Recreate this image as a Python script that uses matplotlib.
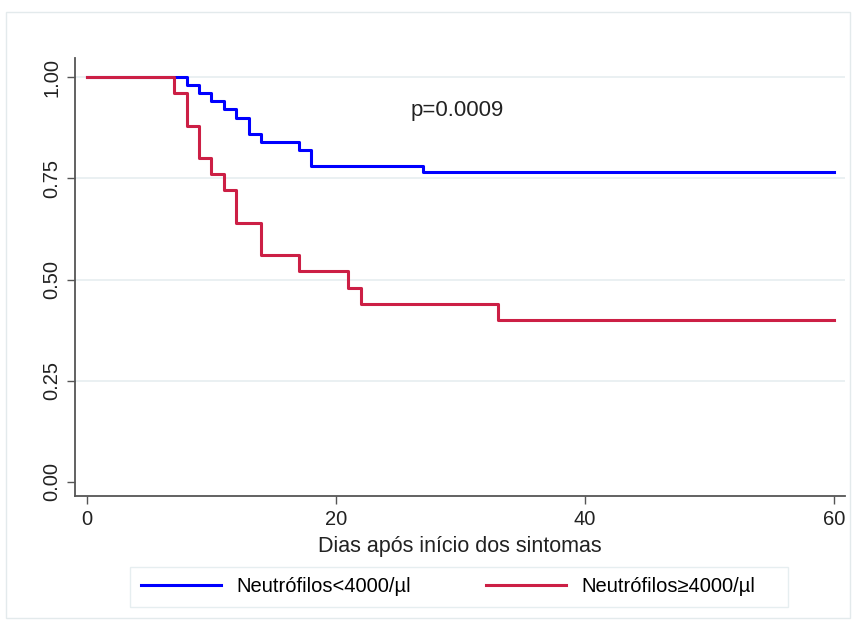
import matplotlib
matplotlib.use("Agg")
import matplotlib.pyplot as plt
from matplotlib.patches import Rectangle
from matplotlib.lines import Line2D

plt.rcParams['font.family'] = ['Liberation Sans', 'DejaVu Sans']

# Kaplan-Meier step data
low_days = [0, 8, 9, 10, 11, 12, 13, 14, 17, 18, 27, 60]
low_surv = [1.00, 0.98, 0.96, 0.94, 0.92, 0.90, 0.86, 0.84, 0.82, 0.78, 0.765, 0.765]
high_days = [0, 7, 8, 9, 10, 11, 12, 14, 17, 21, 22, 33, 60]
high_surv = [1.00, 0.96, 0.88, 0.80, 0.76, 0.72, 0.64, 0.56, 0.52, 0.48, 0.44, 0.40, 0.40]

labels = ["Neutrófilos<4000/µl", "Neutrófilos≥4000/µl"]
x_ticks = [0, 20, 40, 60]
y_ticks = [0.00, 0.25, 0.50, 0.75, 1.00]
y_ticklabels = ["0.00", "0.25", "0.50", "0.75", "1.00"]
p_text = "p=0.0009"
xlabel = "Dias após início dos sintomas"

blue = "#0000ff"
red = "#cc1f45"

W, H = 856, 628
fig = plt.figure(figsize=(8.56, 6.28), dpi=100)
# outer graph border
fig.patches.append(Rectangle((6/W, 1-618/H), 844/W, 606/H, transform=fig.transFigure,
                             fill=False, edgecolor="#e3eaec", linewidth=1.0))
# legend box
fig.patches.append(Rectangle((130/W, 1-607/H), 658/W, 40/H, transform=fig.transFigure,
                             fill=False, edgecolor="#e6eef0", linewidth=1.0))
ax = fig.add_axes([75/W, 1-496/H, 770/W, 438/H])

for y in y_ticks[1:]:
    ax.axhline(y, color="#e6eef0", linewidth=1.2, zorder=0)

ax.step(low_days, low_surv, where='post', color=blue, linewidth=2.2, label=labels[0], zorder=3)
ax.step(high_days, high_surv, where='post', color=red, linewidth=2.2, label=labels[1], zorder=3)

ax.set_xlim(-0.96, 60.9)
ax.set_ylim(-0.0346, 1.047)
ax.set_xticks(x_ticks)
ax.set_xticklabels([str(v) for v in x_ticks], fontsize=14.5)
ax.set_yticks(y_ticks)
ax.set_yticklabels(y_ticklabels, fontsize=14.5, rotation=90, va='center')
ax.tick_params(direction='out', length=6, width=1.0, color="#555555", labelcolor="#222222", pad=4)
for s in ['top', 'right']:
    ax.spines[s].set_visible(False)
for s in ['left', 'bottom']:
    ax.spines[s].set_color("#555555")
    ax.spines[s].set_linewidth(1.3)

ax.set_xlabel(xlabel, fontsize=15.5, color="#222222", labelpad=5)
ax.text(26, 0.918, p_text, fontsize=16, color="#222222", va='center', ha='left')

handles = [Line2D([], [], color=blue, linewidth=2.2), Line2D([], [], color=red, linewidth=2.2)]
leg = fig.legend(handles, labels, loc='center', bbox_to_anchor=(448/W, 1-587/H), ncol=2,
                 fontsize=14.5, frameon=False, handlelength=4.0, handletextpad=0.75,
                 columnspacing=3.7, borderpad=0.5)

fig.savefig("out.png", dpi=100)
